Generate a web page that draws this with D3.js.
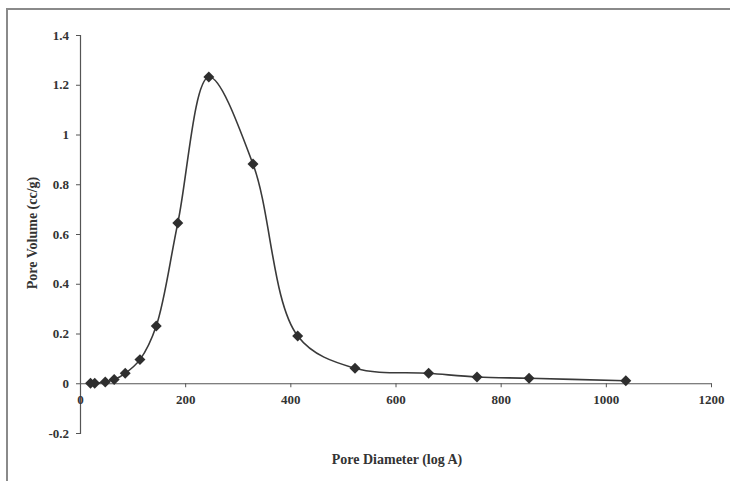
<!DOCTYPE html>
<html>
<head>
<meta charset="utf-8">
<script src="https://cdn.jsdelivr.net/npm/d3@7"></script>
<style>
  html, body { margin: 0; padding: 0; background: #fff; }
  svg { display: block; }
  text { font-family: "Liberation Serif", "DejaVu Serif", serif; font-weight: bold; fill: #333; }
</style>
</head>
<body>
<svg id="chart" width="730" height="481"></svg>
<script>
const poreDiameter = [20, 28, 48, 65, 86, 114, 145, 186, 245, 329, 414, 523, 663, 755, 854, 1038];
const poreVolume   = [0.0, 0.0, 0.005, 0.015, 0.04, 0.095, 0.23, 0.644, 1.231, 0.881, 0.19, 0.06, 0.04, 0.025, 0.02, 0.01];
const xTicks = [0, 200, 400, 600, 800, 1000, 1200];
const yTicks = [-0.2, 0, 0.2, 0.4, 0.6, 0.8, 1, 1.2, 1.4];
const xTitle = "Pore Diameter (log A)";
const yTitle = "Pore Volume (cc/g)";

const svg = d3.select("#chart");
const data = poreDiameter.map((d, i) => ({ x: d, y: poreVolume[i] }));

// frame
svg.append("rect").attr("x", 7).attr("y", 9).attr("width", 740).attr("height", 490)
  .attr("fill", "none").attr("stroke", "#8a8a8a").attr("stroke-width", 2);

const x = d3.scaleLinear().domain([0, 1200]).range([80, 711]);
const y = d3.scaleLinear().domain([-0.2, 1.4]).range([433, 35]);

// y axis
const yAxis = svg.append("g").attr("transform", `translate(${x(0)},0)`)
  .call(d3.axisLeft(y).tickValues(yTicks).tickSize(4).tickPadding(7)
    .tickFormat(d => String(+d.toFixed(1))));
yAxis.select(".domain").attr("stroke", "#555").attr("stroke-width", 1.2);
yAxis.selectAll(".tick line").attr("stroke", "#555");
yAxis.selectAll("text").attr("font-size", 13).attr("fill", "#333")
  .attr("font-family", "Liberation Serif").attr("font-weight", "bold");

// x axis at y=0
const xAxis = svg.append("g").attr("transform", `translate(0,${y(0)})`)
  .call(d3.axisBottom(x).tickValues(xTicks).tickSize(4).tickPadding(8).tickSizeOuter(0)
    .tickFormat(d3.format("d")));
xAxis.select(".domain").attr("stroke", "#555").attr("stroke-width", 1.2);
xAxis.selectAll(".tick line").attr("stroke", "#555");
xAxis.selectAll("text").attr("font-size", 13).attr("fill", "#333")
  .attr("font-family", "Liberation Serif").attr("font-weight", "bold");

// curve
const line = d3.line().x(d => x(d.x)).y(d => y(d.y)).curve(d3.curveCatmullRom.alpha(0.5));
svg.append("path").datum(data).attr("d", line)
  .attr("fill", "none").attr("stroke", "#3a3a3a").attr("stroke-width", 1.6);

// markers (square rotated 45° = equal-axis diamond)
svg.append("g").selectAll("path").data(data).join("path")
  .attr("transform", d => `translate(${x(d.x)},${y(d.y)}) rotate(45)`)
  .attr("d", d3.symbol().type(d3.symbolSquare).size(60))
  .attr("fill", "#2e2e2e");

// titles
svg.append("text").attr("x", 397).attr("y", 464).attr("text-anchor", "middle")
  .attr("font-size", 14).text(xTitle);
svg.append("text").attr("transform", "translate(37,233) rotate(-90)")
  .attr("text-anchor", "middle").attr("font-size", 14).text(yTitle);
</script>
</body>
</html>
